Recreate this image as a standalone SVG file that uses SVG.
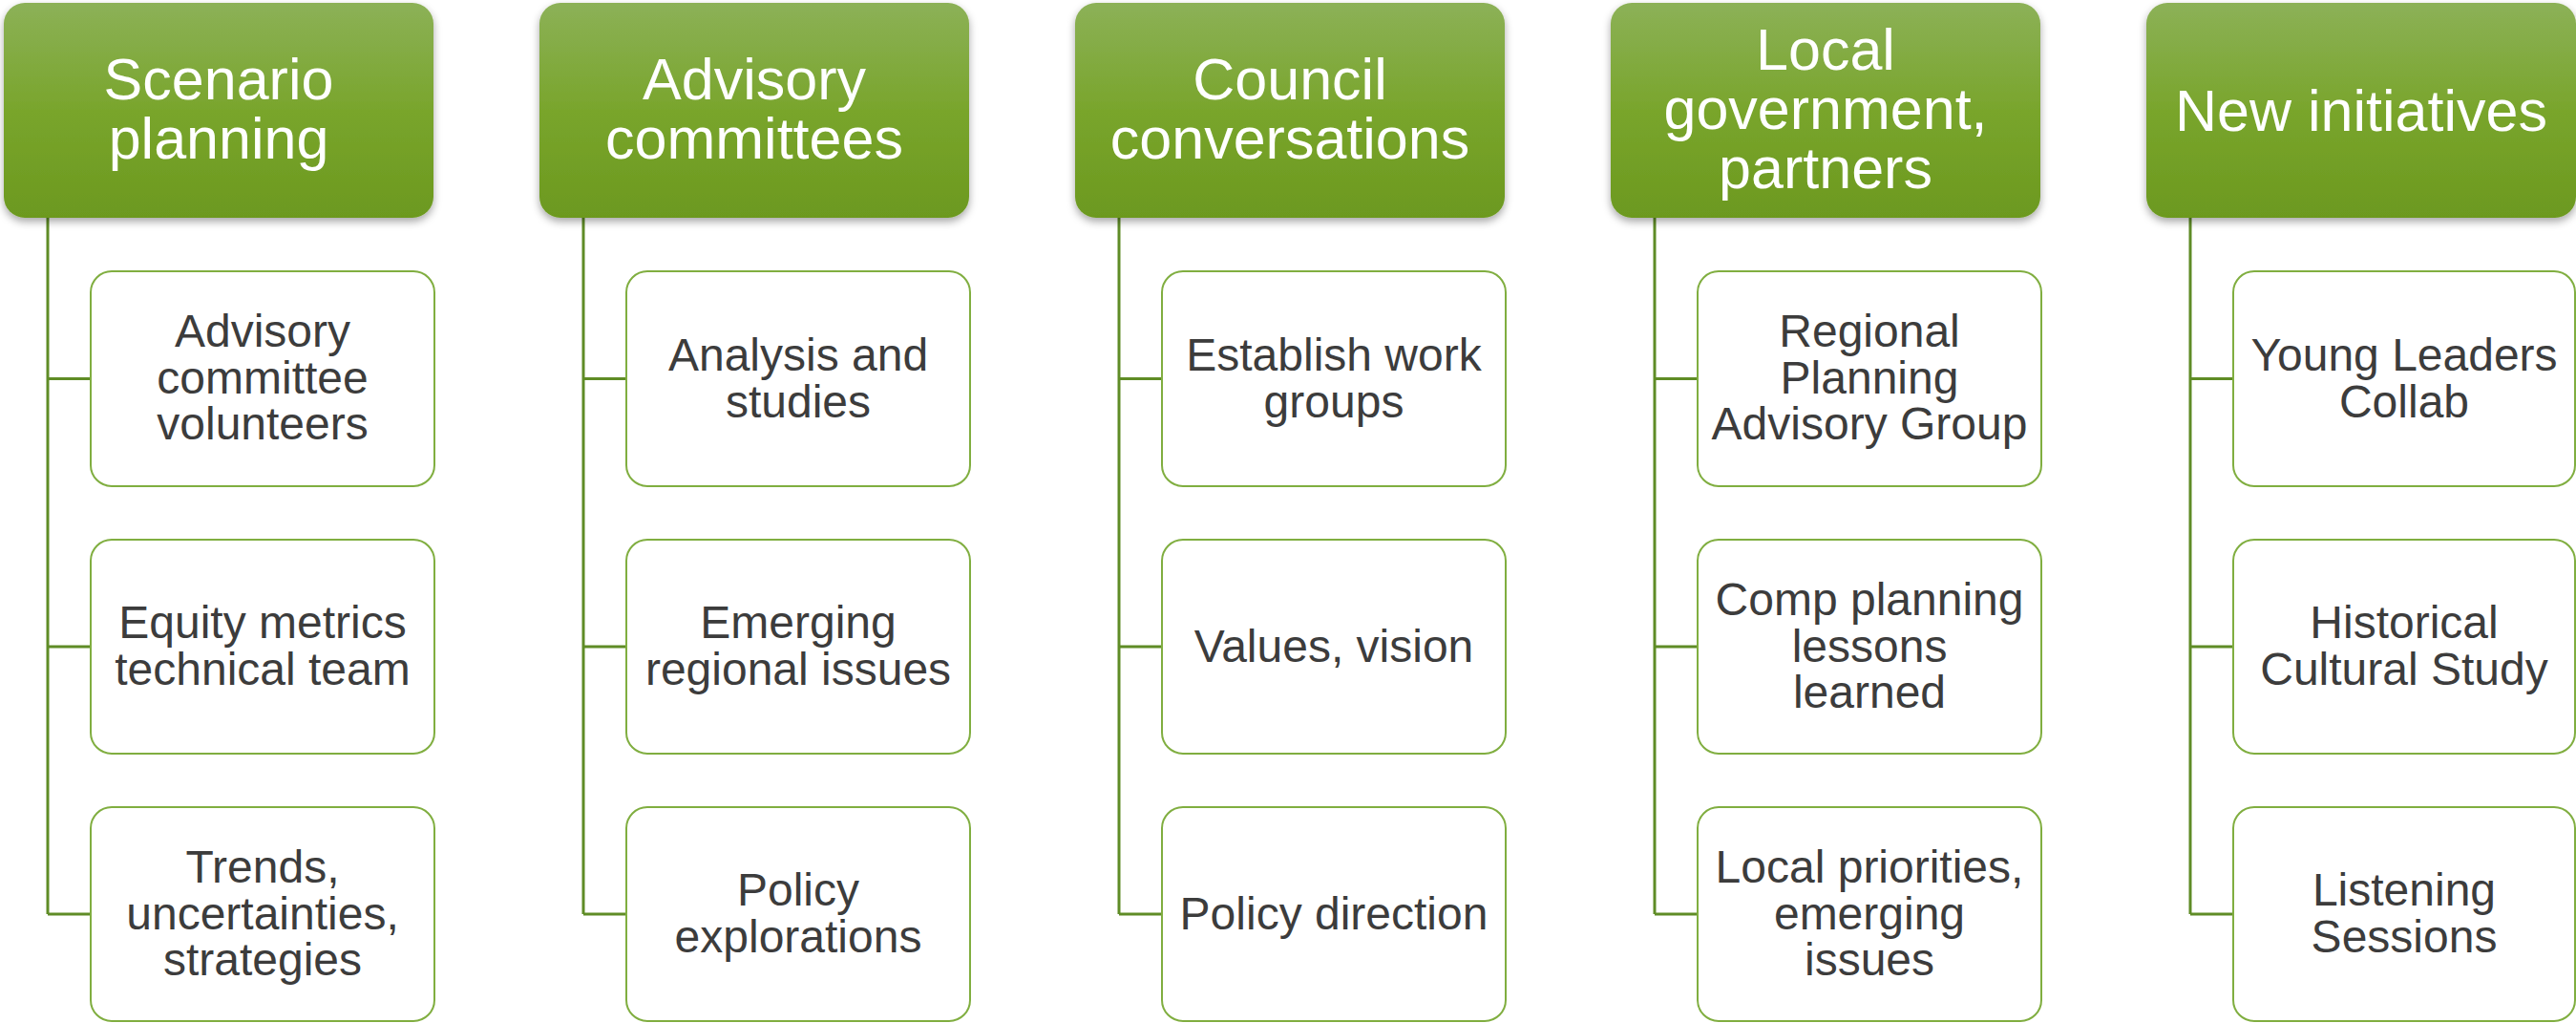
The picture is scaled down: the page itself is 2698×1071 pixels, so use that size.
<svg xmlns="http://www.w3.org/2000/svg" width="2698" height="1071" viewBox="0 0 2698 1071">
<defs>
<linearGradient id="hg" x1="0" y1="0" x2="0" y2="1">
<stop offset="0" stop-color="#8cb157"/>
<stop offset="0.5" stop-color="#79a52c"/>
<stop offset="1" stop-color="#6c991f"/>
</linearGradient>
<filter id="sh" x="-10%" y="-10%" width="120%" height="130%">
<feDropShadow dx="0" dy="4" stdDeviation="4" flood-color="#000" flood-opacity="0.35"/>
</filter>
</defs>
<style>
.hdr{fill:url(#hg);filter:url(#sh)}
.ht{font-family:"Liberation Sans",Arial,sans-serif;font-size:61px;fill:#ffffff;text-anchor:middle}
.box{fill:#ffffff;stroke:#80ae40;stroke-width:2}
.bt{font-family:"Liberation Sans",Arial,sans-serif;font-size:48px;fill:#3c3c3c;text-anchor:middle}
.con{fill:none;stroke:#5f8c26;stroke-width:3}
</style>
<rect width="2698" height="1071" fill="#ffffff"/>
<g id="connectors">
<path class="con" d="M50 228 V957 M50 396.5 H95 M50 677 H95 M50 957 H95"/>
<path class="con" d="M611 228 V957 M611 396.5 H656 M611 677 H656 M611 957 H656"/>
<path class="con" d="M1172 228 V957 M1172 396.5 H1217 M1172 677 H1217 M1172 957 H1217"/>
<path class="con" d="M1733 228 V957 M1733 396.5 H1778 M1733 677 H1778 M1733 957 H1778"/>
<path class="con" d="M2294 228 V957 M2294 396.5 H2339 M2294 677 H2339 M2294 957 H2339"/>
</g>
<g id="h1"><rect class="hdr" x="4" y="3" width="450" height="225" rx="22"/><text class="ht" x="229"><tspan x="229" y="104">Scenario</tspan><tspan x="229" y="166">planning</tspan></text></g>
<g id="h2"><rect class="hdr" x="565" y="3" width="450" height="225" rx="22"/><text class="ht" x="790"><tspan x="790" y="104">Advisory</tspan><tspan x="790" y="166">committees</tspan></text></g>
<g id="h3"><rect class="hdr" x="1126" y="3" width="450" height="225" rx="22"/><text class="ht" x="1351"><tspan x="1351" y="104">Council</tspan><tspan x="1351" y="166">conversations</tspan></text></g>
<g id="h4"><rect class="hdr" x="1687" y="3" width="450" height="225" rx="22"/><text class="ht" x="1912"><tspan x="1912" y="73">Local</tspan><tspan x="1912" y="135">government,</tspan><tspan x="1912" y="197">partners</tspan></text></g>
<g id="h5"><rect class="hdr" x="2248" y="3" width="450" height="225" rx="22"/><text class="ht" x="2473" y="137">New initiatives</text></g>

<g id="c1a"><rect class="box" x="95" y="284" width="360" height="225" rx="22"/><text class="bt"><tspan x="275" y="363">Advisory</tspan><tspan x="275" y="412">committee</tspan><tspan x="275" y="460">volunteers</tspan></text></g>
<g id="c1b"><rect class="box" x="95" y="565" width="360" height="224" rx="22"/><text class="bt"><tspan x="275" y="668">Equity metrics</tspan><tspan x="275" y="717">technical team</tspan></text></g>
<g id="c1c"><rect class="box" x="95" y="845" width="360" height="224" rx="22"/><text class="bt"><tspan x="275" y="924">Trends,</tspan><tspan x="275" y="973">uncertainties,</tspan><tspan x="275" y="1021">strategies</tspan></text></g>

<g id="c2a"><rect class="box" x="656" y="284" width="360" height="225" rx="22"/><text class="bt"><tspan x="836" y="388">Analysis and</tspan><tspan x="836" y="437">studies</tspan></text></g>
<g id="c2b"><rect class="box" x="656" y="565" width="360" height="224" rx="22"/><text class="bt"><tspan x="836" y="668">Emerging</tspan><tspan x="836" y="717">regional issues</tspan></text></g>
<g id="c2c"><rect class="box" x="656" y="845" width="360" height="224" rx="22"/><text class="bt"><tspan x="836" y="948">Policy</tspan><tspan x="836" y="997">explorations</tspan></text></g>

<g id="c3a"><rect class="box" x="1217" y="284" width="360" height="225" rx="22"/><text class="bt"><tspan x="1397" y="388">Establish work</tspan><tspan x="1397" y="437">groups</tspan></text></g>
<g id="c3b"><rect class="box" x="1217" y="565" width="360" height="224" rx="22"/><text class="bt" x="1397" y="693">Values, vision</text></g>
<g id="c3c"><rect class="box" x="1217" y="845" width="360" height="224" rx="22"/><text class="bt" x="1397" y="973">Policy direction</text></g>

<g id="c4a"><rect class="box" x="1778" y="284" width="360" height="225" rx="22"/><text class="bt"><tspan x="1958" y="363">Regional</tspan><tspan x="1958" y="412">Planning</tspan><tspan x="1958" y="460">Advisory Group</tspan></text></g>
<g id="c4b"><rect class="box" x="1778" y="565" width="360" height="224" rx="22"/><text class="bt"><tspan x="1958" y="644">Comp planning</tspan><tspan x="1958" y="693">lessons</tspan><tspan x="1958" y="741">learned</tspan></text></g>
<g id="c4c"><rect class="box" x="1778" y="845" width="360" height="224" rx="22"/><text class="bt"><tspan x="1958" y="924">Local priorities,</tspan><tspan x="1958" y="973">emerging</tspan><tspan x="1958" y="1021">issues</tspan></text></g>

<g id="c5a"><rect class="box" x="2339" y="284" width="358" height="225" rx="22"/><text class="bt"><tspan x="2518" y="388">Young Leaders</tspan><tspan x="2518" y="437">Collab</tspan></text></g>
<g id="c5b"><rect class="box" x="2339" y="565" width="358" height="224" rx="22"/><text class="bt"><tspan x="2518" y="668">Historical</tspan><tspan x="2518" y="717">Cultural Study</tspan></text></g>
<g id="c5c"><rect class="box" x="2339" y="845" width="358" height="224" rx="22"/><text class="bt"><tspan x="2518" y="948">Listening</tspan><tspan x="2518" y="997">Sessions</tspan></text></g>
</svg>
